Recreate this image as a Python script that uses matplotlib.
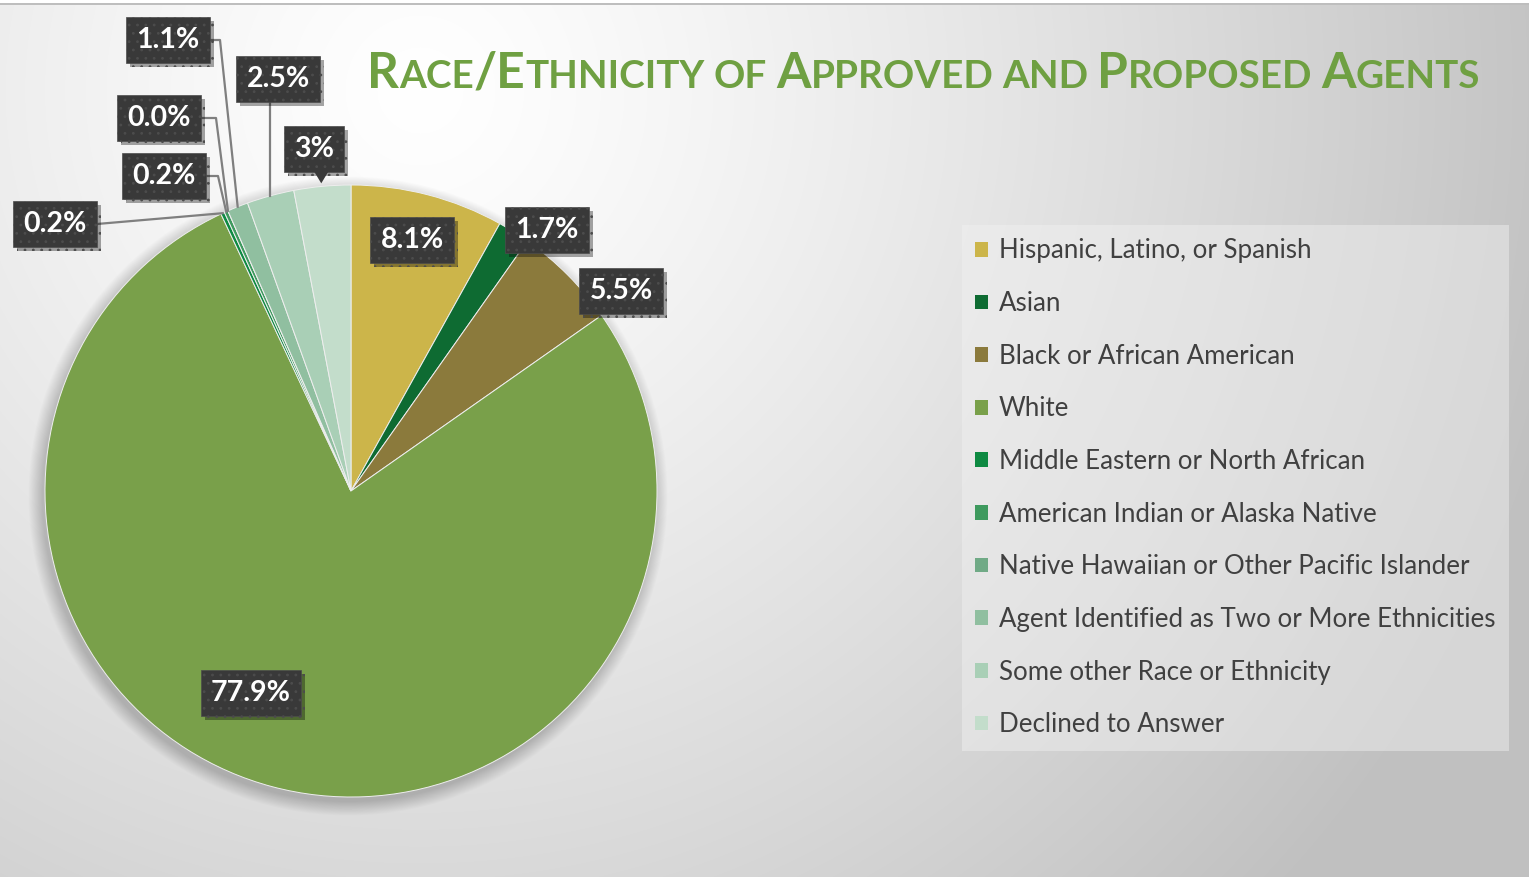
import numpy as np
import matplotlib
matplotlib.use('Agg')
import matplotlib.pyplot as plt
from matplotlib.patches import Circle, Polygon
from matplotlib.lines import Line2D
import matplotlib.patheffects as pe

# ---------------- data ----------------
categories = ["Hispanic, Latino, or Spanish", "Asian", "Black or African American", "White",
              "Middle Eastern or North African", "American Indian or Alaska Native",
              "Native Hawaiian or Other Pacific Islander",
              "Agent Identified as Two or More Ethnicities",
              "Some other Race or Ethnicity", "Declined to Answer"]
values = [8.1, 1.7, 5.5, 77.9, 0.2, 0.2, 0.0, 1.1, 2.5, 3.0]
value_labels = ["8.1%", "1.7%", "5.5%", "77.9%", "0.2%", "0.2%", "0.0%", "1.1%", "2.5%", "3%"]
colors = ["#CCB54A", "#0E6B32", "#8B7A3C", "#79A04A", "#0E8A42", "#3E9A5E",
          "#70AA86", "#90BFA0", "#A9CFB6", "#C3DDCB"]
title = "Race/Ethnicity of Approved and Proposed Agents"

# ---------------- layout ----------------
W, H = 1537, 877
CX, CY, R = 351, 491, 306          # pie centre / radius in pixels (y from top)
label_pos = [(412, 240), (547, 230), (621, 291), (251, 693), (55, 224),
             (164, 176), (159, 118), (168, 40), (278, 79), (314, 149)]
leader = {4: ('straight', None), 5: ('elbow', 218), 6: ('elbow', 216),
          7: ('elbow', 220), 8: ('down', None), 9: ('pointer', None)}

plt.rcParams['hatch.color'] = '#4C4C4C'
plt.rcParams['hatch.linewidth'] = 0.8

fig = plt.figure(figsize=(W / 100, H / 100), dpi=100)

# background gradient
bg = fig.add_axes([0, 0, 1, 1])
yy, xx = np.mgrid[0:H, 0:W]
d = np.hypot(xx - 420, yy - 90)
v = 255 - 62 * (d / 1168.0) ** 1.25
v = np.clip(v, 192, 255)
v[:3, :] = 255
v[3:5, :] = 190
v[:, 1529:] = 255
img = np.dstack([v, v, v]).astype(np.uint8)
bg.imshow(img, extent=(0, W, H, 0), interpolation='bilinear')
bg.set_xlim(0, W)
bg.set_ylim(H, 0)
bg.axis('off')

ax = fig.add_axes([0, 0, 1, 1])
ax.patch.set_alpha(0)


def P(x, y):
    return (x, H - y)


# soft shadow behind pie
for k in range(16):
    ax.add_patch(Circle(P(CX - 3, CY + 5), R + k * 0.9, color='k', alpha=0.011,
                        lw=0, zorder=0.5))

wedges, _ = ax.pie(values, colors=colors, startangle=90, counterclock=False,
                   center=P(CX, CY), radius=R,
                   wedgeprops=dict(edgecolor='#EEEEEE', linewidth=0.7))
for w in wedges:
    w.set_zorder(1)
ax.set_xlim(0, W)
ax.set_ylim(0, H)
ax.set_aspect('auto')
ax.axis('off')

# anchors on pie edge
anchors = []
for w in wedges:
    mid = np.deg2rad((w.theta1 + w.theta2) / 2)
    anchors.append((w.center[0] + R * np.cos(mid), w.center[1] + R * np.sin(mid)))

# data labels
texts = []
for i, lab in enumerate(value_labels):
    t = ax.text(*P(*label_pos[i]), lab, ha='center', va='center', color='white',
                fontsize=20.5, fontfamily='Lato', fontweight='bold', zorder=5,
                bbox=dict(boxstyle='square,pad=0.36', facecolor='#393939',
                          edgecolor='#4C4C4C', linewidth=0.5, hatch='..'))
    t.get_bbox_patch().set_path_effects([
        pe.SimplePatchShadow(offset=(3, -3), shadow_rgbFace='k', alpha=0.35),
        pe.Normal()])
    texts.append(t)

fig.canvas.draw()
renderer = fig.canvas.get_renderer()
inv = ax.transData.inverted()
lc = '#7F7F7F'
for i, (kind, ex) in leader.items():
    bb = texts[i].get_bbox_patch().get_window_extent(renderer)
    (x0, y0), (x1, y1) = inv.transform([[bb.x0, bb.y0], [bb.x1, bb.y1]])
    ax_, ay_ = anchors[i]
    ym = (y0 + y1) / 2
    if kind == 'straight':
        ax.add_line(Line2D([x1, ax_], [ym, ay_], color=lc, lw=1.6, zorder=3))
    elif kind == 'elbow':
        ax.add_line(Line2D([x1, ex, ax_], [ym, ym, ay_], color=lc, lw=1.6, zorder=3))
    elif kind == 'down':
        ax.add_line(Line2D([ax_, ax_], [y0, ay_], color=lc, lw=1.6, zorder=3))
    elif kind == 'pointer':
        tri = Polygon([(ax_ - 8, y0 + 0.5), (ax_ + 6, y0 + 0.5), (ax_ - 1, ay_ + 3)],
                      closed=True, facecolor='#393939', edgecolor='none', zorder=5)
        ax.add_patch(tri)

# legend
leg = ax.legend(wedges, categories, loc='upper left',
                bbox_to_anchor=(962 / W, 1 - 225 / H), bbox_transform=fig.transFigure,
                frameon=True, fancybox=False, facecolor='#F2F2F2', framealpha=0.45,
                edgecolor='none', handlelength=0.5, handleheight=0.5,
                handletextpad=0.4, labelspacing=1.07, borderpad=0.52,
                borderaxespad=0, prop=dict(family='Lato', size=18.6),
                labelcolor='#404040')
for h in leg.legend_handles:
    h.set_edgecolor('none')


# title in small caps
def runs_of(word):
    out = []
    for ch in word:
        big = not ch.islower()
        c = ch.upper()
        if out and out[-1][1] == big:
            out[-1][0] += c
        else:
            out.append([c, big])
    return out


BIG, SMALL = 40.0, 31.0


def width(s, size):
    t = fig.text(0, 0, s, fontsize=size, fontfamily='Lato', fontweight='bold')
    wv = t.get_window_extent(renderer).width
    t.remove()
    return wv


space = width("A A", SMALL) - width("AA", SMALL)
pieces = []
x = 0.0
for word in title.split(' '):
    for txt, big in runs_of(word):
        sz = BIG if big else SMALL
        pieces.append((x, txt, sz))
        x += width(txt, sz)
    x += space
total = x - space
factor = (1480 - 367) / total
for px, txt, sz in pieces:
    fig.text((367 + px * factor) / W, 1 - 88 / H, txt, fontsize=sz * factor,
             fontfamily='Lato', fontweight='bold', color='#6FA042',
             ha='left', va='baseline')

fig.savefig('out.png', dpi=100)
